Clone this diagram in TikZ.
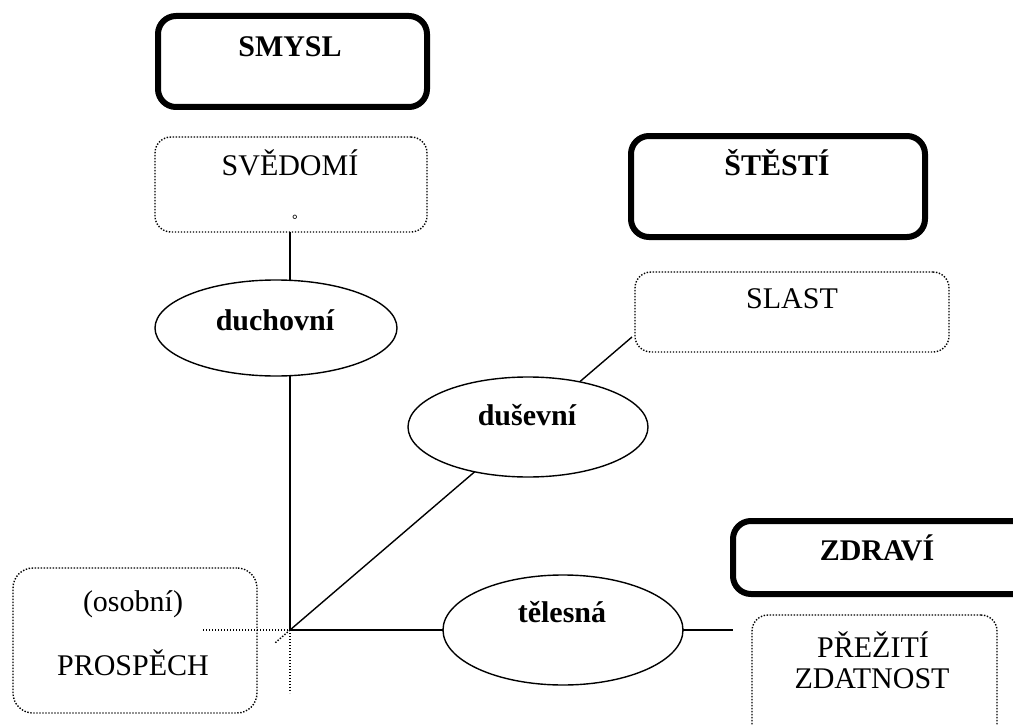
\documentclass[tikz,border=0pt]{standalone}
\usepackage{fontspec}
\setmainfont{Liberation Serif}
\usetikzlibrary{shapes.geometric,calc}
\begin{document}
\begin{tikzpicture}[x=1pt,y=-1pt,
  thickbox/.style={draw,line width=6pt,rounded corners=18pt,rectangle,minimum width=#1,inner sep=0pt,outer sep=0pt},
  dotbox/.style={draw,line width=1.4pt,dash pattern=on 1.4pt off 1.6pt,rounded corners=16pt,rectangle,inner sep=0pt,outer sep=0pt},
  oval/.style={draw,line width=1.4pt,fill=white,ellipse,inner sep=0pt,outer sep=0pt},
  conn/.style={line width=1.4pt},
  dotconn/.style={line width=1.4pt,dash pattern=on 1.4pt off 1.6pt},
  btxt/.style={font=\fontsize{30}{31}\selectfont\bfseries,anchor=base,inner sep=0pt},
  rtxt/.style={font=\fontsize{30}{31}\selectfont,anchor=base,inner sep=0pt},
]
\clip (0,0) rectangle (1013,725);
\fill[white] (0,0) rectangle (1013,725);

% coordinates
\coordinate (o) at (290,630);
\coordinate (slastend) at (632,337);
\coordinate (zend) at (733,630);
\coordinate (dotL) at (203,630);
\coordinate (dotD) at (275,643);
\coordinate (dotV) at (290,693);

% thick boxes
\node[thickbox=269pt,minimum height=91pt] (smysl) at (292.5,61.5) {};
\node[thickbox=294pt,minimum height=101pt] (stesti) at (778,186.5) {};
\node[thickbox=300pt,minimum height=73pt] (zdravi) at (883,557.5) {};

% dotted boxes
\node[dotbox,minimum width=272pt,minimum height=95pt] (svedomi) at (291,184.5) {};
\node[dotbox,minimum width=314pt,minimum height=80pt] (slast) at (792,312) {};
\node[dotbox,minimum width=244pt,minimum height=145pt,rounded corners=20pt] (prospech) at (135,640.5) {};
\node[dotbox,minimum width=245pt,minimum height=125pt] (preziti) at (874.5,677.5) {};

% connectors
\draw[conn] (svedomi.south -| o) -- (o |- 0,280);
\draw[conn] (o |- 0,376) -- (o);
\draw[conn] (o) -- (slastend);
\draw[conn] (o) -- (zend);
\draw[dotconn] (dotL) -- (o);
\draw[dotconn] (o) -- (dotD);
\draw[dotconn] (o) -- (dotV);

% ellipses
\node[oval,minimum width=242pt,minimum height=96pt] (duch) at (276,328) {};
\node[oval,minimum width=240pt,minimum height=100pt] (dus) at (528,427) {};
\node[oval,minimum width=240pt,minimum height=110pt] (tel) at (563,630) {};

% texts
\node[btxt] (smyslT) at (290,57) {SMYSL};
\node[btxt] (stestiT) at (777,175) {ŠTĚSTÍ};
\node[btxt] (zdraviT) at (877,560) {ZDRAVÍ};
\node[rtxt] (svedomiT) at (290,175) {SVĚDOMÍ};
\node[font=\fontsize{14}{15}\selectfont\bfseries,anchor=base,inner sep=0pt] (svedomiD) at (295,224) {°};
\node[rtxt] (slastT) at (792,308) {SLAST};
\node[btxt] (duchT) at (275,330) {duchovní};
\node[btxt] (dusT) at (527,425) {duševní};
\node[btxt] (telT) at (562,622) {tělesná};
\node[rtxt] (osobniT) at (133,611) {(osobní)};
\node[rtxt] (prospechT) at (133,675) {PROSPĚCH};
\node[rtxt] (prezitiT) at (873,657) {PŘEŽITÍ};
\node[rtxt] (zdatnostT) at (872,688) {ZDATNOST};
\end{tikzpicture}
\end{document}
